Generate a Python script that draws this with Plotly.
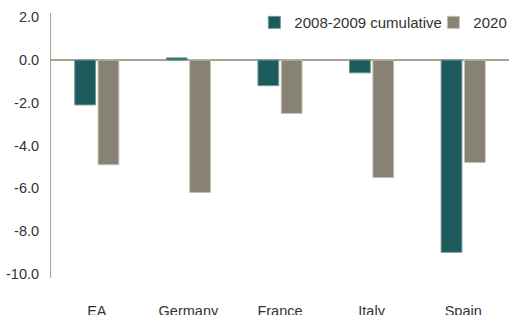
import plotly.graph_objects as go

categories = ["EA", "Germany", "France", "Italy", "Spain"]
cum_2008_2009 = [-2.1, 0.1, -1.2, -0.6, -9.0]
y2020 = [-4.9, -6.2, -2.5, -5.5, -4.8]
ytick_vals = [2, 0, -2, -4, -6, -8, -10]
ytick_text = ["2.0", "0.0", "-2.0", "-4.0", "-6.0", "-8.0", "-10.0"]

TEAL = "#1c5a5c"
GRAY = "#878273"
AXIS = "#a8a291"
FONT = "Liberation Sans, Arial, sans-serif"

fig = go.Figure()
fig.add_trace(go.Bar(
    x=categories, y=cum_2008_2009, name="2008-2009 cumulative",
    marker=dict(color=TEAL, line=dict(color="#6f9a9a", width=1)),
))
fig.add_trace(go.Bar(
    x=categories, y=y2020, name="2020",
    marker=dict(color=GRAY, line=dict(color="#c4c0b4", width=1)),
))

fig.update_layout(
    width=509, height=315,
    margin=dict(l=51, r=0, t=13, b=37, autoexpand=False),
    paper_bgcolor="white", plot_bgcolor="white",
    barmode="group", bargap=0.49, bargroupgap=0.11,
    font=dict(family=FONT, size=14.5, color="#333333"),
    showlegend=True,
    legend=dict(
        orientation="h", x=0.444, xanchor="left", y=1.026, yanchor="top",
        font=dict(family=FONT, size=15, color="#333333"),
        bgcolor="rgba(0,0,0,0)", itemwidth=30, traceorder="normal",
        entrywidth=134, entrywidthmode="pixels",
    ),
    xaxis=dict(
        showgrid=False, showline=False, zeroline=False, ticks="",
        automargin=False, ticklabelstandoff=22,
        tickfont=dict(family=FONT, size=14.5, color="#333333"),
    ),
    yaxis=dict(
        range=[-10.2, 2.2], tickvals=ytick_vals, ticktext=ytick_text,
        showgrid=False, showline=True, linecolor=AXIS, linewidth=1,
        zeroline=True, zerolinecolor=AXIS, zerolinewidth=1.5,
        ticks="", ticklabelstandoff=8, automargin=False,
        tickfont=dict(family=FONT, size=14.5, color="#333333"),
    ),
)

fig.write_html("out.html", config={"displayModeBar": False},
               post_script="document.body.style.margin='0';")
